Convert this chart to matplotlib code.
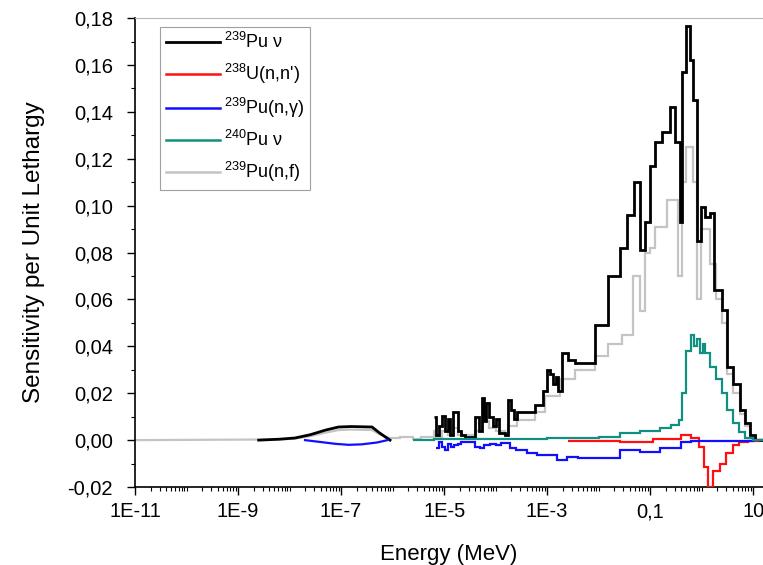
import numpy as np
import matplotlib
matplotlib.use("Agg")
import matplotlib.pyplot as plt
from matplotlib.ticker import FixedLocator, FixedFormatter, MultipleLocator, FuncFormatter

plt.rcParams['font.family'] = ['Liberation Sans', 'DejaVu Sans']
plt.rcParams['mathtext.fontset'] = 'custom'
plt.rcParams['mathtext.rm'] = 'Liberation Sans'

###########################################################
# data : energies are given as log10(E / MeV)
###########################################################

E_TOP = 1.19   # right edge of the plot

# smooth thermal part
pu239_nu_th_logE = [-8.6, -8.2, -7.9, -7.6, -7.3, -7.05, -6.8, -6.4, -6.25, -6.05]
pu239_nu_th      = [0.0, 0.0004, 0.0009, 0.0023, 0.0043, 0.0056, 0.0058, 0.0056, 0.0030, 0.0]

pu239_f_th_logE  = [-11.0, -8.2, -7.9, -7.6, -7.3, -7.05, -6.8, -6.4, -6.25, -6.05]
pu239_f_th       = [0.0, 0.0003, 0.0006, 0.0017, 0.0032, 0.0043, 0.0045, 0.0043, 0.0025, 0.0008]

pu239_g_th_logE  = [-7.7, -7.4, -7.1, -6.85, -6.6, -6.3, -6.1]
pu239_g_th       = [0.0, -0.0008, -0.0016, -0.0020, -0.0018, -0.0010, 0.0]

# group-wise part : left group edges and values
pu239_nu_lo = [-5.20, -5.16, -5.10, -5.04, -4.98, -4.92, -4.88, -4.82, -4.74, -4.68,
               -4.60, -4.40, -4.32, -4.27, -4.22, -4.18, -4.12, -4.06, -4.00, -3.94,
               -3.82, -3.76, -3.70, -3.64, -3.58, -3.23, -3.08, -3.00, -2.94, -2.88,
               -2.82, -2.78, -2.72, -2.60, -2.46, -2.07, -1.82, -1.58, -1.45, -1.31,
               -1.19, -1.10, -1.00, -0.90, -0.77, -0.61, -0.51, -0.43, -0.38, -0.30,
               -0.22, -0.17, -0.09, -0.01, 0.07, 0.17, 0.24, 0.40, 0.50, 0.61,
               0.75, 0.84, 0.94, 1.04]
pu239_nu    = [0.0098, 0.002, 0.006, 0.0105, 0.004, 0.009, 0.002, 0.012, 0.004, 0.002,
               0.0015, 0.010, 0.004, 0.018, 0.008, 0.016, 0.010, 0.006, 0.009, 0.003,
               0.002, 0.017, 0.013, 0.009, 0.012, 0.015, 0.021, 0.030, 0.028, 0.024,
               0.027, 0.021, 0.037, 0.034, 0.033, 0.049, 0.070, 0.082, 0.096, 0.110,
               0.081, 0.093, 0.117, 0.127, 0.1316, 0.142, 0.127, 0.093, 0.157, 0.1765,
               0.162, 0.145, 0.085, 0.0996, 0.095, 0.097, 0.064, 0.0556, 0.031, 0.024,
               0.0128, 0.0073, 0.002, 0.0]

u238_inl_lo = [-2.60, -1.58, -0.95, -0.40, -0.20, -0.05, 0.05, 0.13, 0.22, 0.35,
               0.47, 0.60, 0.72, 0.90, 1.10]
u238_inl    = [-0.0005, -0.001, 0.0004, 0.002, 0.001, -0.003, -0.0115, -0.020, -0.013, -0.010,
               -0.0056, -0.002, -0.001, -0.0003, 0.0]

pu239_g_lo  = [-5.16, -5.10, -5.04, -4.98, -4.92, -4.86, -4.80, -4.74, -4.68, -4.40,
               -4.30, -4.22, -4.10, -4.00, -3.90, -3.72, -3.60, -3.40, -3.20, -2.81,
               -2.61, -2.40, -2.20, -1.58, -1.20, -0.80, -0.40, -0.20, 0.60, 1.00]
pu239_g     = [-0.0035, -0.001, -0.003, -0.004, -0.0015, -0.003, -0.002, -0.0015, -0.001, -0.003,
               -0.0035, -0.002, -0.0015, -0.002, -0.0013, -0.0035, -0.004, -0.0056, -0.0065, -0.0085,
               -0.0070, -0.0075, -0.0077, -0.0043, -0.0051, -0.0035, -0.001, -0.0005, -0.0002, 0.0]

pu240_nu_lo = [-5.60, -5.20, -3.00, -2.00, -1.58, -1.20, -0.80, -0.60, -0.45, -0.38,
               -0.30, -0.20, -0.14, -0.09, -0.03, 0.02, 0.07, 0.17, 0.28, 0.40,
               0.50, 0.60, 0.72, 0.85, 1.00]
pu240_nu    = [0.0, 0.0003, 0.0008, 0.0015, 0.003, 0.004, 0.005, 0.0065, 0.0085, 0.020,
               0.038, 0.045, 0.040, 0.043, 0.037, 0.041, 0.037, 0.031, 0.026, 0.020,
               0.0128, 0.0073, 0.0034, 0.001, 0.0]

pu239_f_lo  = [-6.05, -5.85, -5.60, -5.45, -5.20, -5.16, -5.04, -4.92, -4.82, -4.74,
               -4.40, -4.27, -4.12, -4.00, -3.82, -3.76, -3.64, -3.58, -3.23, -3.04,
               -2.75, -2.46, -2.07, -1.82, -1.54, -1.33, -1.19, -1.10, -1.00, -0.90,
               -0.67, -0.46, -0.38, -0.30, -0.17, -0.09, -0.01, 0.17, 0.28, 0.40,
               0.50, 0.61, 0.75, 0.84, 0.94, 1.04]
pu239_f     = [0.0008, 0.0015, 0.0005, 0.0012, 0.004, 0.0015, 0.004, 0.002, 0.005, 0.002,
               0.004, 0.008, 0.005, 0.004, 0.002, 0.006, 0.006, 0.0085, 0.012, 0.019,
               0.026, 0.030, 0.036, 0.041, 0.045, 0.070, 0.055, 0.080, 0.082, 0.091,
               0.1026, 0.070, 0.110, 0.125, 0.110, 0.060, 0.090, 0.075, 0.060, 0.050,
               0.028, 0.020, 0.011, 0.006, 0.0015, 0.0]

x_tick_logE   = [-11, -9, -7, -5, -3, -1, 1]
x_tick_labels = ["1E-11", "1E-9", "1E-7", "1E-5", "1E-3", "0,1", "10"]

###########################################################
###########################################################

def edges_of(lo) :
    return 10.0 ** np.array(lo + [E_TOP])


fig = plt.figure(figsize=(7.63, 5.65), dpi=100)
ax = fig.add_axes([0.177, 0.138, 0.823, 0.830])

GRAY  = "#c4c4c4"
RED   = "#ff1010"
BLUE  = "#1010ff"
TEAL  = "#118f80"

# draw the curves
ax.plot(10.0 ** np.array(pu239_f_th_logE), pu239_f_th, color=GRAY, lw=1.6, zorder=2)
ax.stairs(pu239_f, edges_of(pu239_f_lo), baseline=None, color=GRAY, lw=1.6, zorder=2)

ax.plot(10.0 ** np.array(pu239_nu_th_logE), pu239_nu_th, color="black", lw=2.0, zorder=3)
ax.stairs(pu239_nu, edges_of(pu239_nu_lo), baseline=None, color="black", lw=2.0, zorder=3)

ax.stairs(u238_inl, edges_of(u238_inl_lo), baseline=None, color=RED, lw=1.6, zorder=4)

ax.plot(10.0 ** np.array(pu239_g_th_logE), pu239_g_th, color=BLUE, lw=1.6, zorder=4)
ax.stairs(pu239_g, edges_of(pu239_g_lo), baseline=None, color=BLUE, lw=1.6, zorder=4)

ax.stairs(pu240_nu, edges_of(pu240_nu_lo), baseline=None, color=TEAL, lw=1.6, zorder=5)

# legend handles
ax.plot([], [], color="black", lw=2.0, label=r"$^{239}$Pu ν")
ax.plot([], [], color=RED, lw=1.8, label=r"$^{238}$U(n,n')")
ax.plot([], [], color=BLUE, lw=1.8, label=r"$^{239}$Pu(n,γ)")
ax.plot([], [], color=TEAL, lw=1.8, label=r"$^{240}$Pu ν")
ax.plot([], [], color=GRAY, lw=1.8, label=r"$^{239}$Pu(n,f)")

ax.set_xscale("log")
ax.set_xlim(1e-11, 10.0 ** E_TOP)
ax.set_ylim(-0.02, 0.18)

ax.xaxis.set_major_locator(FixedLocator([10.0 ** v for v in x_tick_logE]))
ax.xaxis.set_major_formatter(FixedFormatter(x_tick_labels))
minors = [k * 10.0 ** d for d in range(-11, 2) for k in range(1, 10)]
ax.xaxis.set_minor_locator(FixedLocator(minors))
ax.xaxis.set_minor_formatter(FixedFormatter([""] * len(minors)))

ax.yaxis.set_major_locator(MultipleLocator(0.02))
ax.yaxis.set_minor_locator(MultipleLocator(0.01))
ax.yaxis.set_major_formatter(FuncFormatter(lambda v, p : ("%.2f" % v).replace(".", ",")))

ax.tick_params(which="major", direction="out", length=6, width=1, labelsize=14.5)
ax.tick_params(axis="y", which="major", pad=10)
ax.tick_params(axis="x", which="major", pad=5)
ax.tick_params(which="minor", direction="out", length=3, width=0.8)

ax.spines["right"].set_visible(False)
ax.spines["top"].set_color("#b8b8b8")
ax.spines["left"].set_linewidth(1.2)
ax.spines["bottom"].set_linewidth(1.2)

ax.set_xlabel("Energy (MeV)", fontsize=16, labelpad=16)
ax.set_ylabel("Sensitivity per Unit Lethargy", fontsize=17.5, labelpad=16)

leg = ax.legend(loc="upper left", bbox_to_anchor=(0.04, 0.982), fontsize=13,
                handlelength=3.0, handletextpad=0.25, labelspacing=0.55,
                borderpad=0.3, borderaxespad=0, fancybox=False, framealpha=1)
leg.get_frame().set_edgecolor("#a0a0a0")
leg.get_frame().set_linewidth(0.8)

fig.savefig("out.png", dpi=100)
